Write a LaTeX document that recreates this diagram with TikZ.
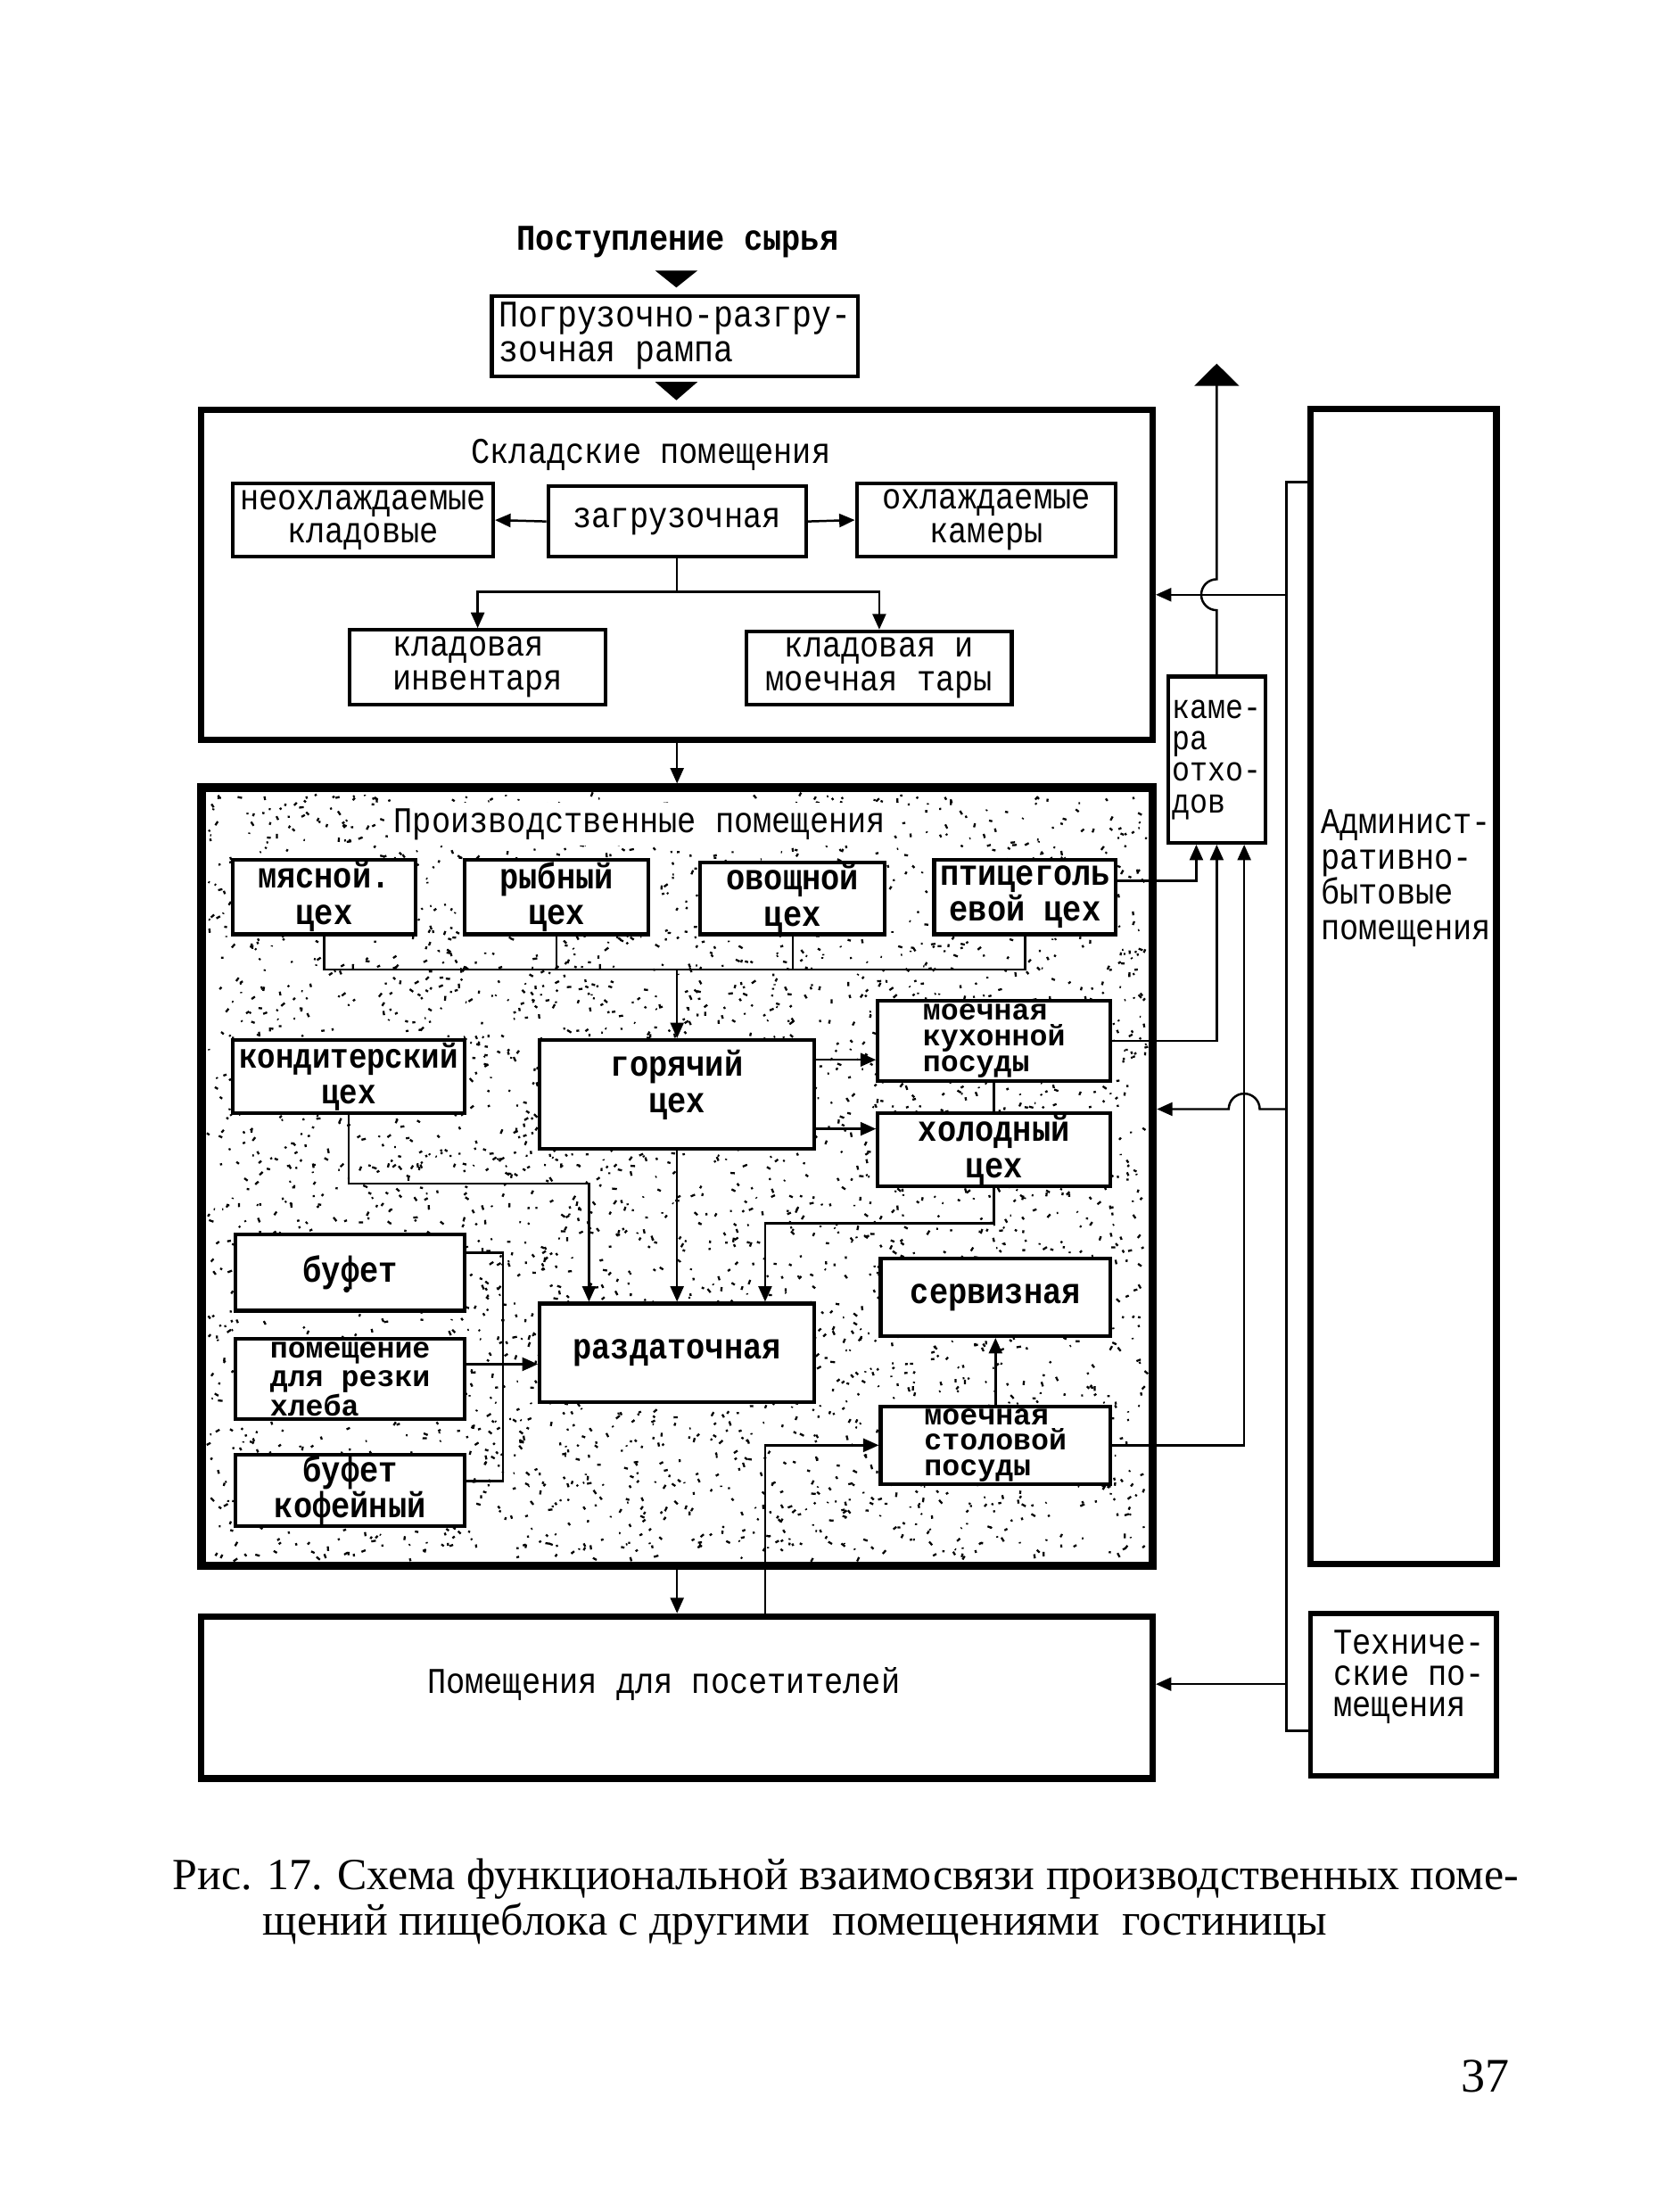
\documentclass[tikz,border=0pt]{standalone}
\usepackage{fontspec}
\usepackage{graphicx}
\setmainfont{Liberation Serif}
\newfontfamily\monof{Liberation Mono}
\usetikzlibrary{arrows.meta}
\newcommand\myvsc{1.15}
\newcommand\mytc[1]{\scalebox{1}[\myvsc]{\vbox{\lineskiplimit=-\maxdimen\halign{\hfil##\hfil\cr#1\crcr}}}}
\newcommand\mytl[1]{\scalebox{1}[\myvsc]{\vbox{\lineskiplimit=-\maxdimen\halign{##\hfil\cr#1\crcr}}}}
\newcommand\mytlu[1]{\vbox{\lineskiplimit=-\maxdimen\halign{##\hfil\cr#1\crcr}}}
\newcommand\bxn[7][]{%
  \pgfmathsetmacro\bxcx{(#3+#5)/2}%
  \pgfmathsetmacro\bxcy{(#4+#6)/2}%
  \pgfmathsetmacro\bxw{(#5-#3)*0.38}%
  \pgfmathsetmacro\bxh{(#6-#4)*0.38}%
  \node[bx,minimum width=\bxw pt,minimum height=\bxh pt,#1] (#2) at (\bxcx,\bxcy) {#7};}
\begin{document}
\begin{tikzpicture}[x=0.38pt,y=-0.38pt,
  fnt/.style={font=\monof\fontsize{8.5}{7.9}\selectfont},
  bfnt/.style={font=\monof\bfseries\fontsize{8.5}{8.5}\selectfont},
  tight/.style={font=\monof\bfseries\fontsize{8}{6.9}\selectfont},
  bx/.style={draw, line width=1pt, fill=white, inner sep=0pt, fnt},
  bbx/.style={bx, bfnt},
  big/.style={draw, line width=1.7pt, fill=none, inner sep=0pt},
  conn/.style={line width=0.6pt},
  arr/.style={conn, -{Triangle[length=4.2pt,width=3.6pt]}},
  lbl/.style={inner sep=0pt, fnt},
]
\useasboundingbox (0,0) rectangle (1181.6,1569.6);
\fill[white] (0,0) rectangle (1181.6,1569.6);

% ---------- top ----------
\node[lbl, bfnt] (title) at (481,172) {\mytc{Поступление сырья}};
\fill (465,192) -- (495,192) -- (480,204) -- cycle;
\bxn[font=\monof\fontsize{8.8}{8.1}\selectfont]{ramp}{349}{210}{609}{267}{\mytl{Погрузочно-разгру-\cr зочная рампа}}
\fill (465,271) -- (495,271) -- (480,284) -- cycle;

% ---------- storage ----------
\bxn[big, line width=1.7pt]{store}{143}{291}{818}{525}{}
\node[lbl] (storet) at (462,323) {\mytc{Складские помещения}};
\bxn{nk}{165}{343}{350}{395}{\mytc{неохлаждаемые\cr кладовые}}
\bxn{zg}{389}{345}{572}{395}{\mytc{загрузочная}}
\bxn{ok}{608}{343}{792}{395}{\mytc{охлаждаемые\cr камеры}}
\bxn{ki}{248}{447}{430}{500}{\mytl{кладовая\cr инвентаря}}
\bxn{kt}{530}{448}{718}{500}{\mytc{кладовая и\cr моечная тары}}
\draw[arr] (zg.west) -- (nk.east);
\draw[arr] (zg.east) -- (ok.west);
\coordinate (sj) at (480.5,420);
\draw[conn] (zg.south) -- (sj);
\draw[arr] (sj) -| (ki.north);
\draw[arr] (sj) -| (kt.north);

% ---------- production ----------
\bxn[big, line width=2.3pt]{prod}{143}{559}{818}{1111}{}
\pgfmathsetseed{12345}
\foreach \i in {1,...,3600}{
  \pgfmathsetmacro{\px}{148+665*rnd}
  \pgfmathsetmacro{\py}{564+542*rnd}
  \pgfmathsetmacro{\pa}{360*rnd}
  \pgfmathsetmacro{\pl}{0.8+2.6*rnd}
  \draw[line width=0.55pt] (\px,\py) -- ++(\pa:\pl);
}
\draw[arr] (store.south) -- (prod.north);
\node[lbl, fill=white, inner sep=1.5pt] (prodt) at (454,585) {\mytc{Производственные помещения}};
\bxn[bbx]{ms}{165}{610}{295}{663}{\mytc{мясной.\cr цех}}
\bxn[bbx]{rb}{330}{610}{460}{663}{\mytc{рыбный\cr цех}}
\bxn[bbx]{ov}{497}{612}{628}{663}{\mytc{овощной\cr цех}}
\bxn[bbx]{pt}{663}{610}{792}{663}{\mytc{птицеголь\cr евой цех}}
\coordinate (bus) at (480.5,688);
\draw[conn] (ms.south) |- (bus) -| (pt.south);
\draw[conn] (rb.south) -- (rb.south |- bus);
\draw[conn] (ov.south) -- (ov.south |- bus);

\bxn[bbx, font=\monof\bfseries\fontsize{8.2}{8.5}\selectfont]{kd}{165}{738}{330}{790}{\mytc{кондитерский\cr цех}}
\bxn[bbx]{gc}{383}{738}{578}{815}{\raisebox{7pt}{\mytc{горячий\cr цех}}}
\bxn[bbx, tight]{mk}{623}{710}{788}{767}{\mytlu{моечная\cr кухонной\cr посуды}}
\bxn[bbx]{xc}{623}{790}{788}{842}{\mytc{холодный\cr цех}}
\draw[arr] (bus) -- (gc.north);
\draw[arr] (gc.east |- 0,752) -- (mk.west |- 0,752);
\draw[arr] (gc.east |- 0,801) -- (xc.west |- 0,801);
\draw[conn] (mk.south) -- (xc.north);

\bxn[bbx]{rz}{383}{925}{578}{995}{\mytc{раздаточная}}
\draw[arr] (kd.south) |- (418,840) -- (418,0 |- rz.north);
\draw[arr] (gc.south) -- (rz.north);
\draw[arr] (xc.south) |- (543,868) -- (543,0 |- rz.north);

\bxn[bbx]{bf}{167}{876}{330}{930}{\raisebox{2pt}{\mytc{буфет}}}
\fill (246,915) circle (2.2);
\bxn[bbx, font=\monof\bfseries\fontsize{8}{7.8}\selectfont]{hl}{167}{950}{330}{1007}{\mytlu{помещение\cr для резки\cr хлеба}}
\bxn[bbx]{kf}{167}{1032}{330}{1083}{\mytc{буфет\cr кофейный}}
\draw[conn] (bf.east |- 0,889) -- (357,889) -- (357,1051) -- (kf.east |- 0,1051);
\draw[arr] (hl.east |- 0,968) -- (rz.west |- 0,968);

\bxn[bbx]{sv}{625}{893}{788}{948}{\mytc{сервизная}}
\bxn[bbx, tight]{mst}{625}{998}{788}{1053}{\mytlu{моечная\cr столовой\cr посуды}}
\draw[arr] (mst.north) -- (sv.south);

% ---------- visitors ----------
\bxn[big, line width=1.7pt]{vis}{143}{1147}{818}{1262}{}
\node[lbl] (vist) at (471,1195) {\mytc{Помещения для посетителей}};
\draw[arr] (prod.south) -- (vis.north);
\draw[arr] (543,0 |- vis.north) |- (mst.west);

% ---------- right side ----------
\bxn[font=\monof\fontsize{8}{7.4}\selectfont]{cam}{829}{480}{898}{598}{\mytl{каме-\cr ра\cr отхо-\cr дов}}
\bxn[big, line width=1.7pt]{adm}{930}{290}{1062}{1110}{}
\node[lbl, anchor=north west, font=\monof\fontsize{8.5}{8.3}\selectfont] (admt) at (937,574) {\mytl{Админист-\cr ративно-\cr бытовые\cr помещения}};
\bxn[big, line width=1.4pt]{tech}{930}{1145}{1062}{1260}{}
\node[lbl, anchor=north west, font=\monof\fontsize{8.5}{7.4}\selectfont] (techt) at (946,1156) {\mytl{Техниче-\cr ские по-\cr мещения}};

\coordinate (topc) at (863.5,258);
\draw[conn, -{Triangle[length=6pt,width=12pt]}] (cam.north) -- (863.5,433) arc[start angle=90,end angle=270,radius=11] -- (topc);

\coordinate (j1) at (913,422);
\coordinate (j2) at (913,787);
\coordinate (j3) at (913,1195);
\draw[conn] (adm.west |- 0,342) -- (913,342) -- (913,1228) -- (tech.west |- 0,1228);
\draw[arr] (j1) -- (store.east |- j1);
\draw[arr] (j2) -- (894,787) arc[start angle=0,end angle=-180,radius=11] -- (prod.east |- j2);
\draw[arr] (j3) -- (vis.east |- j3);

\draw[arr] (pt.east |- 0,625) -| (849,0 |- cam.south);
\draw[arr] (mk.east) -| (cam.south);
\draw[arr] (mst.east) -| (883,0 |- cam.south);

% ---------- caption ----------
\node[anchor=west, inner sep=0pt, font=\fontsize{12}{14}\selectfont] (cap1) at (122,1333) {Рис. 17. Схема функциональной взаимосвязи производственных поме-};
\node[anchor=west, inner sep=0pt, font=\fontsize{12}{14}\selectfont] (cap2) at (186,1365) {щений пищеблока с другими\ \ помещениями\ \ гостиницы};
\node[inner sep=0pt, font=\fontsize{13}{15}\selectfont] (page) at (1054,1473) {37};
\end{tikzpicture}
\end{document}
